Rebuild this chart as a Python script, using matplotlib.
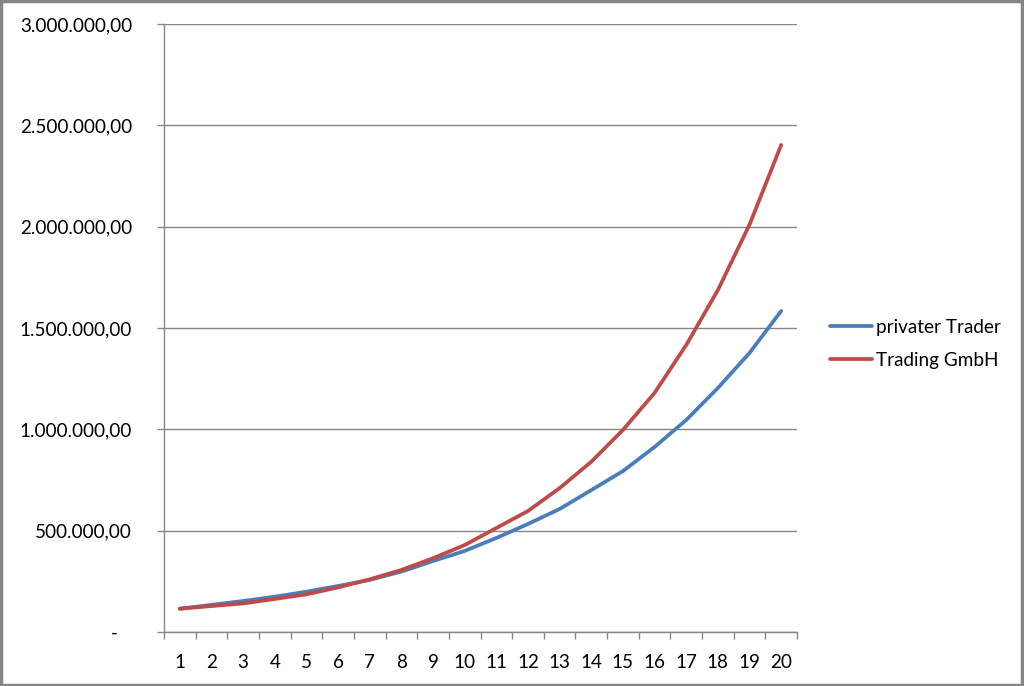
import matplotlib.pyplot as plt
from matplotlib.patches import Rectangle
from matplotlib.ticker import FuncFormatter

plt.rcParams['font.family'] = ['Lato', 'DejaVu Sans']

jahre = list(range(1, 21))
privater_trader = [115000, 134000, 153000, 174000, 199000, 227000, 257000, 298000, 350000, 400000,
                   464000, 533000, 607000, 700000, 794000, 913000, 1046000, 1204000, 1377000, 1584000]
trading_gmbh = [115000, 128000, 141000, 163000, 186000, 220000, 260000, 306000, 364000, 429000,
                513000, 597000, 710000, 840000, 997000, 1180000, 1416000, 1687000, 2010000, 2403000]

grau = '#868686'
fs = 13.6


def deutsch(v, pos):
    if v == 0:
        return '-   '
    s = f'{v:,.2f}'
    return s.replace(',', 'X').replace('.', ',').replace('X', '.')


fig = plt.figure(figsize=(10.24, 6.86), dpi=100)
ax = fig.add_axes([164 / 1024, 1 - 632 / 686, 633 / 1024, 608 / 686])

ax.plot(jahre, privater_trader, color='#4A7EBB', lw=2.7, label='privater Trader', solid_capstyle='round')
ax.plot(jahre, trading_gmbh, color='#BE4B48', lw=2.7, label='Trading GmbH', solid_capstyle='round')

ax.set_xlim(0.5, 20.5)
ax.set_ylim(0, 3000000)
ax.set_yticks(range(0, 3000001, 500000))
ax.yaxis.set_major_formatter(FuncFormatter(deutsch))
ax.set_xticks(jahre)
ax.set_xticks([x + 0.5 for x in range(0, 21)], minor=True)
ax.tick_params(axis='x', which='major', length=0, pad=16, labelsize=fs, colors='black')
ax.tick_params(axis='x', which='minor', length=5, width=1, color=grau, direction='out')
ax.tick_params(axis='y', length=5, width=1, color=grau, pad=18, labelsize=fs)

ax.grid(axis='y', color=grau, lw=1)
ax.set_axisbelow(True)
for s in ['top', 'right']:
    ax.spines[s].set_visible(False)
for s in ['left', 'bottom']:
    ax.spines[s].set_color(grau)
    ax.spines[s].set_linewidth(1)

fig.legend(loc='upper left', bbox_to_anchor=(813 / 1024, 1 - 302 / 686), frameon=False,
           fontsize=fs, handlelength=2.2, handletextpad=0.25, labelspacing=0.85)

fig.patches.append(Rectangle((0.001, 0.002), 0.997, 0.996, transform=fig.transFigure,
                             fill=False, edgecolor=grau, lw=2.5))

fig.savefig('out.png', dpi=100)
